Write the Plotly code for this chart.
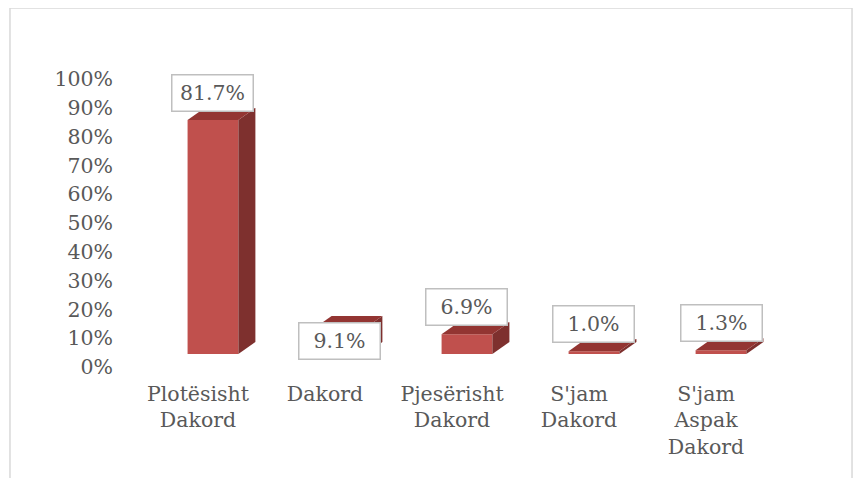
import plotly.graph_objects as go

# chart data
categories = ["Plotësisht<br>Dakord", "Dakord", "Pjesërisht<br>Dakord",
              "S'jam<br>Dakord", "S'jam<br>Aspak<br>Dakord"]
values = [81.7, 9.1, 6.9, 1.0, 1.3]
y_ticks = [0, 10, 20, 30, 40, 50, 60, 70, 80, 90, 100]

# style
FRONT = "#C0504D"
SIDE = "#7E302E"
TOP = "#933532"
TEXT = "#595959"
FONT = "DejaVu Serif"
BAR_W = 0.4
DEPTH_X = 0.134   # oblique depth of the fake 3D bars (x units)
DEPTH_Y = 4.2     # oblique depth (y units, %)
LABEL_SHIFT = [8, -32, 8, 8, 8]

xs = list(range(len(values)))

fig = go.Figure()

# front faces
fig.add_trace(go.Bar(
    x=xs, y=values, width=BAR_W, marker_color=FRONT,
    marker_line_width=0, yaxis="y2", showlegend=False, hoverinfo="skip"
))

# side and top faces
for x, v in zip(xs, values):
    r = x + BAR_W / 2
    l = x - BAR_W / 2
    fig.add_trace(go.Scatter(
        x=[r, r, r + DEPTH_X, r + DEPTH_X, r],
        y=[0, v, v + DEPTH_Y, DEPTH_Y, 0],
        fill="toself", fillcolor=SIDE, mode="lines", line=dict(width=0),
        yaxis="y2", showlegend=False, hoverinfo="skip"
    ))
    fig.add_trace(go.Scatter(
        x=[l, r, r + DEPTH_X, l + DEPTH_X, l],
        y=[v, v, v + DEPTH_Y, v + DEPTH_Y, v],
        fill="toself", fillcolor=TOP, mode="lines", line=dict(width=0),
        yaxis="y2", showlegend=False, hoverinfo="skip"
    ))

# invisible trace so the percentage axis gets drawn
fig.add_trace(go.Scatter(x=[None], y=[None], mode="none",
                         showlegend=False, hoverinfo="skip"))

# data labels
for x, v, s in zip(xs, values, LABEL_SHIFT):
    fig.add_annotation(
        x=x, y=v, xref="x", yref="y2", text=f"{v:.1f}%", showarrow=False,
        yanchor="bottom", yshift=s, width=70, height=25, borderpad=5,
        bordercolor="#BFBFBF", borderwidth=1.5, bgcolor="white",
        font=dict(family=FONT, size=20.5, color=TEXT)
    )

fig.update_layout(
    width=862, height=478,
    margin=dict(l=112, r=70, t=71, b=119),
    paper_bgcolor="white", plot_bgcolor="white",
    font=dict(family=FONT, size=20.5, color=TEXT),
    xaxis=dict(
        range=[-0.732, 4.622], tickvals=[x - 0.118 for x in xs],
        ticktext=categories, showgrid=False, zeroline=False, showline=False,
        ticks="", ticklabelstandoff=12
    ),
    yaxis=dict(
        range=[0, 100], tickvals=y_ticks, ticktext=[f"{t}%" for t in y_ticks],
        showgrid=False, zeroline=False, showline=False, ticks="",
        ticklabelstandoff=6
    ),
    yaxis2=dict(range=[-4.54, 96.02], overlaying="y", visible=False),
    shapes=[dict(type="rect", xref="paper", yref="paper",
                 x0=-0.1618, x1=1.0765, y0=-0.45, y1=1.2465,
                 line=dict(color="#D9D9D9", width=1.5), layer="below")]
)

fig.write_html("out.html")
